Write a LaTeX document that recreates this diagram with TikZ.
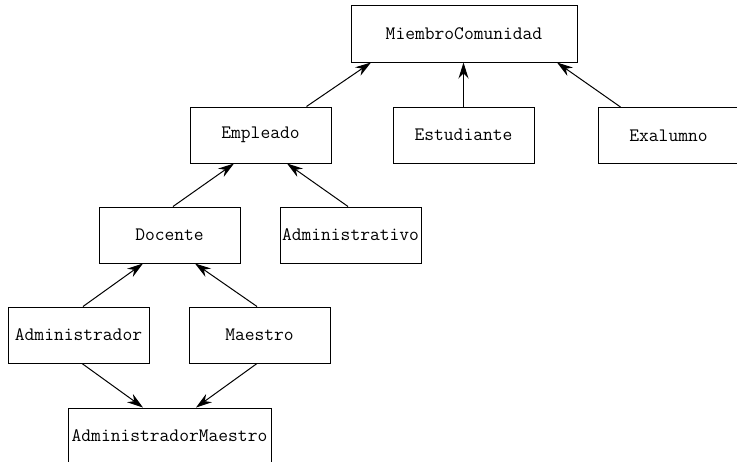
\documentclass[tikz,border=0pt]{standalone}
\usepackage{fontspec}
\usetikzlibrary{arrows.meta}

\tikzset{
  clase/.style={draw, line width=1pt, inner sep=0pt, minimum width=141pt, minimum height=56pt,
    font=\fontsize{19}{23}\selectfont\ttfamily},
  hereda/.style={-{Stealth[length=16pt,width=10pt]}, line width=1pt}
}

\begin{document}
\begin{tikzpicture}[x=1pt,y=1pt,yscale=-1,xscale=1]
\useasboundingbox (0,0) rectangle (737,461);

% Text Node
\node [clase, minimum width=226pt, minimum height=57pt] (MiembroComunidad) at (464,33.5) {MiembroComunidad};
% Text Node
\node [clase] (Empleado) at (260.5,135) {Empleado};
% Text Node
\node [clase] (Estudiante) at (463.5,135) {Estudiante};
% Text Node
\node [clase] (Exalumno) at (668.5,135.5) {Exalumno};
% Text Node
\node [clase] (Docente) at (169.5,235) {Docente};
% Text Node
\node [clase] (Administrativo) at (350.5,235) {Administrativo};
% Text Node
\node [clase] (Administrador) at (78.5,335) {Administrador};
% Text Node
\node [clase] (Maestro) at (259.5,335) {Maestro};
% Text Node
\node [clase, minimum width=203pt] (AdministradorMaestro) at (169.5,436) {AdministradorMaestro};

%Straight Lines
\draw [hereda] ([xshift=46pt]Empleado.north) -- ([xshift=-93pt]MiembroComunidad.south);
\draw [hereda] (Estudiante.north) -- (Estudiante.north |- MiembroComunidad.south);
\draw [hereda] ([xshift=-48pt]Exalumno.north) -- ([xshift=93pt]MiembroComunidad.south);
%Straight Lines
\draw [hereda] ([xshift=3.5pt]Docente.north) -- ([xshift=-26.5pt]Empleado.south);
\draw [hereda] ([xshift=-2.5pt]Administrativo.north) -- ([xshift=26.5pt]Empleado.south);
%Straight Lines
\draw [hereda] ([xshift=4.5pt]Administrador.north) -- ([xshift=-26.5pt]Docente.south);
\draw [hereda] ([xshift=-2.5pt]Maestro.north) -- ([xshift=25.5pt]Docente.south);
%Straight Lines
\draw [hereda] ([xshift=3.5pt]Administrador.south) -- ([xshift=-26.5pt]AdministradorMaestro.north);
\draw [hereda] ([xshift=-2.5pt]Maestro.south) -- ([xshift=26.5pt]AdministradorMaestro.north);

\end{tikzpicture}
\end{document}
